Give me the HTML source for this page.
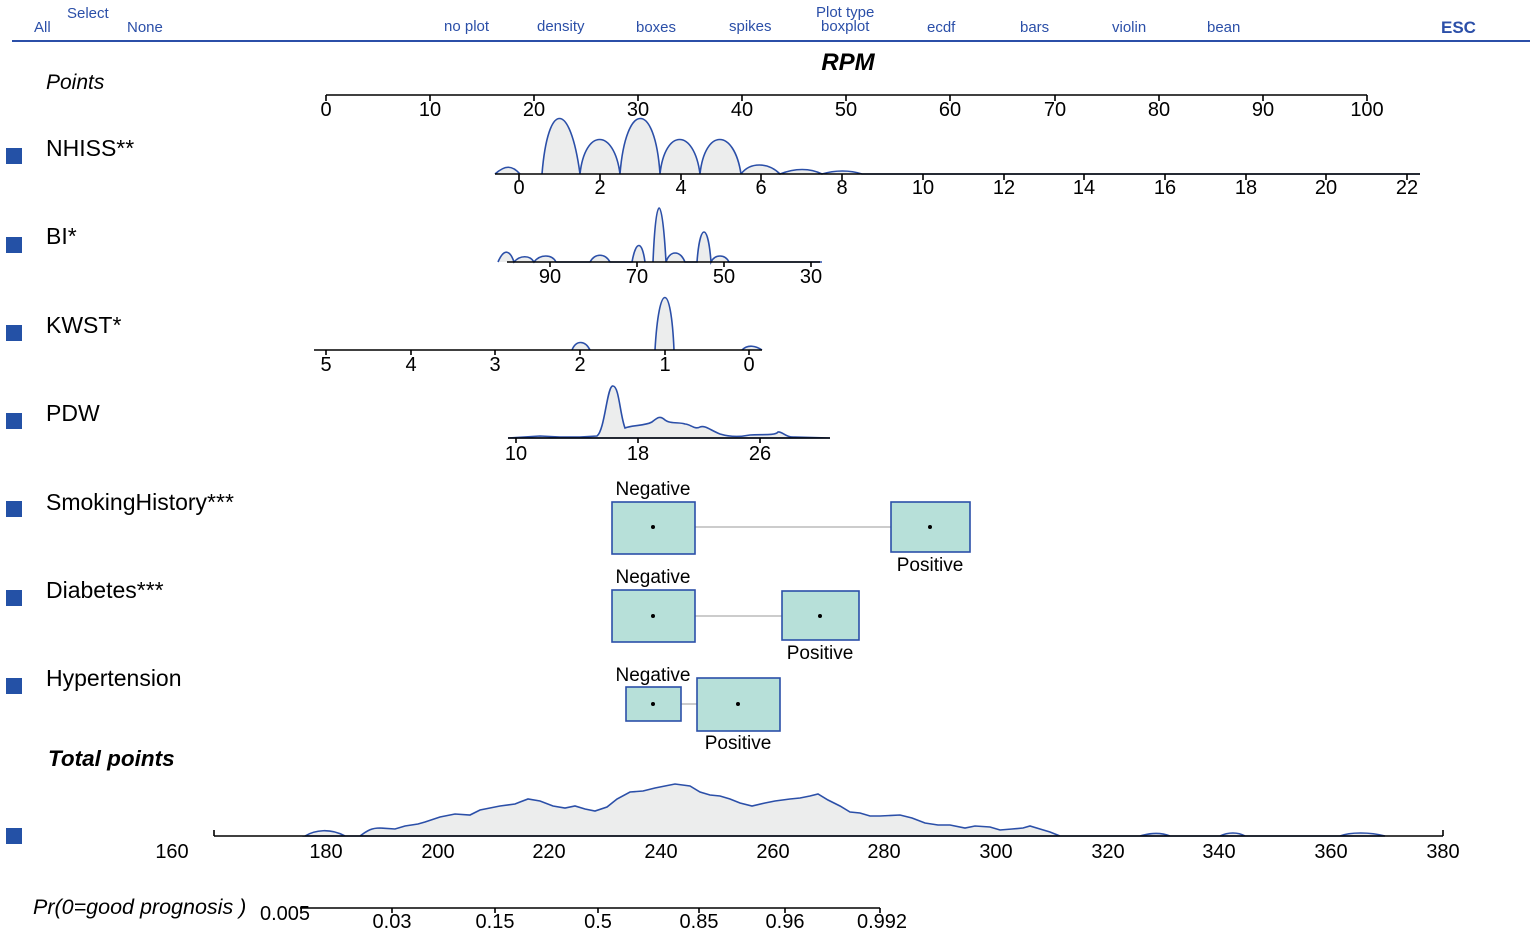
<!DOCTYPE html>
<html><head><meta charset="utf-8"><style>
html,body{margin:0;padding:0;background:#fff;}
svg{display:block;font-family:"Liberation Sans",Arial,sans-serif;}
.h{fill:#2b4fa8;font-size:15px;}
.t{font-size:20px;fill:#000;text-anchor:middle;}
.l{font-size:23px;fill:#000;}
.d{fill:#eceded;stroke:#2b4fa8;stroke-width:1.6;}
.ax{stroke:#000;stroke-width:1.6;fill:none;}
.bx{fill:#b7e0d9;stroke:#2b4fa8;stroke-width:1.6;}
.sq{fill:#2451a6;}
</style></head><body>
<svg width="1535" height="935" viewBox="0 0 1535 935">
<text class="h" x="34" y="32">All</text>
<text class="h" x="67" y="18">Select</text>
<text class="h" x="127" y="32">None</text>
<text class="h" x="444" y="31">no plot</text>
<text class="h" x="537" y="31">density</text>
<text class="h" x="636" y="32">boxes</text>
<text class="h" x="729" y="31">spikes</text>
<text class="h" x="816" y="17">Plot type</text>
<text class="h" x="821" y="31">boxplot</text>
<text class="h" x="927" y="32">ecdf</text>
<text class="h" x="1020" y="32">bars</text>
<text class="h" x="1112" y="32">violin</text>
<text class="h" x="1207" y="32">bean</text>
<text class="h" x="1441" y="33" style="font-weight:bold;font-size:17px">ESC</text>
<line x1="12" y1="41" x2="1530" y2="41" stroke="#2b4fa8" stroke-width="2"/>

<text x="848" y="70" style="font-size:24px;font-weight:bold;font-style:italic" text-anchor="middle">RPM</text>
<text class="l" x="46" y="89" style="font-style:italic;font-size:21px">Points</text>
<path class="ax" d="M326 95H1367 M326 95v6M430 95v6M534 95v6M638 95v6M742 95v6M846 95v6M950 95v6M1055 95v6M1159 95v6M1263 95v6M1367 95v6"/>
<g class="t"><text x="326" y="116">0</text><text x="430" y="116">10</text><text x="534" y="116">20</text><text x="638" y="116">30</text><text x="742" y="116">40</text><text x="846" y="116">50</text><text x="950" y="116">60</text><text x="1055" y="116">70</text><text x="1159" y="116">80</text><text x="1263" y="116">90</text><text x="1367" y="116">100</text></g>

<rect class="sq" x="6" y="148" width="16" height="16"/>
<text class="l" x="46" y="156">NHISS**</text>
<path class="d" d="M495 174C505 165 512 165 520 174 M542 174C548 100 570 100 580 174C585 128 614 128 620 174C626 100 655 100 660 174C665 128 694 128 700 174C705 128 734 128 741 174 M741 174C750 162 768 162 780 174C795 168 810 168 822 174C835 170 850 170 862 174 L1420 174"/>
<path class="ax" d="M495 174H1420 M519 174v6M600 174v6M681 174v6M761 174v6M842 174v6M923 174v6M1004 174v6M1084 174v6M1165 174v6M1246 174v6M1326 174v6M1407 174v6"/>
<g class="t"><text x="519" y="194">0</text><text x="600" y="194">2</text><text x="681" y="194">4</text><text x="761" y="194">6</text><text x="842" y="194">8</text><text x="923" y="194">10</text><text x="1004" y="194">12</text><text x="1084" y="194">14</text><text x="1165" y="194">16</text><text x="1246" y="194">18</text><text x="1326" y="194">20</text><text x="1407" y="194">22</text></g>

<rect class="sq" x="6" y="237" width="16" height="16"/>
<text class="l" x="46" y="244">BI*</text>
<path class="d" d="M498 262C504 248 510 250 514 262C520 255 530 255 534 262C540 254 552 254 556 262C570 262 585 262 590 262C595 253 605 253 610 262C620 262 628 262 632 262C636 240 642 240 645 262 M653 262C656 190 662 190 666 262C670 250 680 250 685 262C690 262 694 262 697 262C700 222 708 222 711 262C715 254 725 254 729 262L822 262"/>
<path class="ax" d="M507 262H820 M550 262v5M637 262v5M724 262v5M811 262v5"/>
<g class="t"><text x="550" y="283">90</text><text x="637" y="283">70</text><text x="724" y="283">50</text><text x="811" y="283">30</text></g>

<rect class="sq" x="6" y="325" width="16" height="16"/>
<text class="l" x="46" y="333">KWST*</text>
<path class="d" d="M572 350C576 340 585 340 590 350 M655 350C659 280 671 280 674 350 M742 350C748 344 756 346 762 350"/>
<path class="ax" d="M314 350H762 M326 350v5M411 350v5M495 350v5M580 350v5M665 350v5M749 350v5"/>
<g class="t"><text x="326" y="371">5</text><text x="411" y="371">4</text><text x="495" y="371">3</text><text x="580" y="371">2</text><text x="665" y="371">1</text><text x="749" y="371">0</text></g>

<rect class="sq" x="6" y="413" width="16" height="16"/>
<text class="l" x="46" y="421">PDW</text>
<path class="d" d="M508 438L540 436L560 437L580 437L597 436C605 430 607 385 613 386C619 386 620 415 625 428C632 425 645 426 652 422C657 418 660 415 665 420C670 424 680 422 685 424C690 424 695 430 700 427C705 425 710 430 720 434C730 437 740 437 750 435C760 434 775 436 778 432C782 431 786 438 795 437L830 438Z"/>
<path class="ax" d="M508 438H830 M516 438v5M638 438v5M760 438v5"/>
<g class="t"><text x="516" y="460">10</text><text x="638" y="460">18</text><text x="760" y="460">26</text></g>

<rect class="sq" x="6" y="501" width="16" height="16"/>
<text class="l" x="46" y="510">SmokingHistory***</text>
<line x1="695" y1="527" x2="891" y2="527" stroke="#bbb" stroke-width="1.5"/>
<rect class="bx" x="612" y="502" width="83" height="52"/><circle cx="653" cy="527" r="2"/>
<rect class="bx" x="891" y="502" width="79" height="50"/><circle cx="930" cy="527" r="2"/>
<g class="t" style="font-size:19px"><text x="653" y="495">Negative</text><text x="930" y="571">Positive</text></g>

<rect class="sq" x="6" y="590" width="16" height="16"/>
<text class="l" x="46" y="598">Diabetes***</text>
<line x1="695" y1="616" x2="782" y2="616" stroke="#bbb" stroke-width="1.5"/>
<rect class="bx" x="612" y="590" width="83" height="52"/><circle cx="653" cy="616" r="2"/>
<rect class="bx" x="782" y="591" width="77" height="49"/><circle cx="820" cy="616" r="2"/>
<g class="t" style="font-size:19px"><text x="653" y="583">Negative</text><text x="820" y="659">Positive</text></g>

<rect class="sq" x="6" y="678" width="16" height="16"/>
<text class="l" x="46" y="686">Hypertension</text>
<line x1="681" y1="704" x2="697" y2="704" stroke="#bbb" stroke-width="1.5"/>
<rect class="bx" x="626" y="687" width="55" height="34"/><circle cx="653" cy="704" r="2"/>
<rect class="bx" x="697" y="678" width="83" height="53"/><circle cx="738" cy="704" r="2"/>
<g class="t" style="font-size:19px"><text x="653" y="681">Negative</text><text x="738" y="749">Positive</text></g>

<text class="l" x="48" y="766" style="font-weight:bold;font-style:italic;font-size:22.5px">Total points</text>
<rect class="sq" x="6" y="828" width="16" height="16"/>
<path class="d" d="M305 836C315 830 330 828 345 836L360 836C368 830 372 828 380 828L395 829L405 826L418 824L425 822L440 817L455 814L470 815L480 810L490 808L500 806L515 804L520 802L528 799L540 801L553 806L565 808L575 806L585 809L595 811L607 807L617 799L630 792L643 791L655 788L665 786L675 784L690 786L700 792L710 795L720 796L730 799L740 803L752 806L765 803L775 801L790 799L800 798L810 796L818 794L828 800L840 806L850 812L860 813L870 816L880 816L900 815L912 818L925 823L938 825L950 825L965 828L975 826L990 827L1000 830L1012 829L1023 828L1030 826L1040 829L1050 832L1060 836L1140 836C1150 833 1160 832 1170 836L1220 836C1228 832 1238 832 1245 836L1340 836C1350 832 1370 832 1385 836Z"/>
<path class="ax" d="M214 836H1443 M214 836v-6M1443 836v-6"/>
<g class="t"><text x="172" y="858">160</text><text x="326" y="858">180</text><text x="438" y="858">200</text><text x="549" y="858">220</text><text x="661" y="858">240</text><text x="773" y="858">260</text><text x="884" y="858">280</text><text x="996" y="858">300</text><text x="1108" y="858">320</text><text x="1219" y="858">340</text><text x="1331" y="858">360</text><text x="1443" y="858">380</text></g>

<text class="l" x="33" y="914" style="font-style:italic;font-size:21.5px">Pr(0=good prognosis )</text>
<path class="ax" d="M300 908H880 M392 908v5M495 908v5M598 908v5M699 908v5M785 908v5M880 908v5"/>
<g class="t"><text x="285" y="920">0.005</text><text x="392" y="928">0.03</text><text x="495" y="928">0.15</text><text x="598" y="928">0.5</text><text x="699" y="928">0.85</text><text x="785" y="928">0.96</text><text x="882" y="928">0.992</text></g>
</svg>
</body></html>
